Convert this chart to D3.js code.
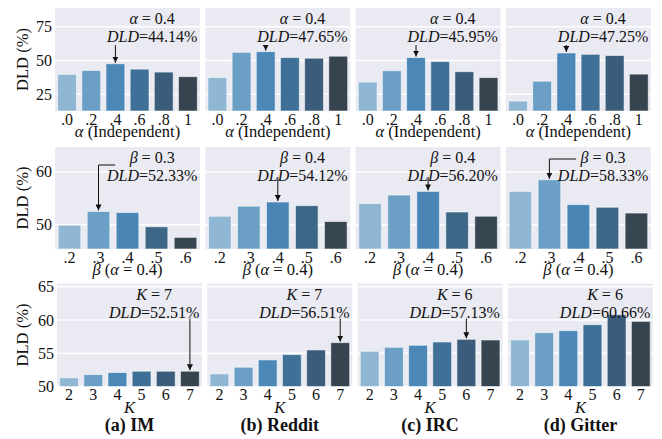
<!DOCTYPE html>
<html>
<head>
<meta charset="utf-8">
<script src="https://cdn.jsdelivr.net/npm/d3@7"></script>
<style>
  body { margin: 0; background: #fff; }
  svg { display: block; }
  text { font-family: "Liberation Serif", "Times New Roman", serif; fill: #111; }
</style>
</head>
<body>
<div id="chart"></div>
<script>
// tick labels
const alphaTicks = ['.0', '.2', '.4', '.6', '.8', '1'];
const betaTicks = ['.2', '.3', '.4', '.5', '.6'];
const kTicks = ['2', '3', '4', '5', '6', '7'];

const datasets = ['(a) IM', '(b) Reddit', '(c) IRC', '(d) Gitter'];

// row 1: alpha (independent)
const alphaIM = [39.7, 42.6, 47.6, 43.6, 41.4, 38.0];
const alphaReddit = [37.3, 56.1, 56.6, 52.2, 51.7, 53.2];
const alphaIRC = [34.0, 42.4, 52.2, 49.3, 41.7, 37.3];
const alphaGitter = [19.9, 34.6, 55.6, 54.6, 53.7, 39.9];

// row 2: beta (alpha = 0.4)
const betaIM = [49.9, 52.5, 52.3, 49.6, 47.6];
const betaReddit = [51.6, 53.5, 54.3, 53.6, 50.6];
const betaIRC = [54.0, 55.6, 56.3, 52.4, 51.6];
const betaGitter = [56.3, 58.5, 53.8, 53.3, 52.2];

// row 3: K
const kIM = [51.3, 51.8, 52.1, 52.3, 52.3, 52.3];
const kReddit = [51.9, 52.9, 54.0, 54.8, 55.5, 56.6];
const kIRC = [55.3, 55.9, 56.2, 56.7, 57.1, 57.0];
const kGitter = [57.0, 58.1, 58.4, 59.3, 60.8, 59.8];

// annotations: [param symbol, value, best index, DLD text, arrow style]
const alphaNotes = [['α', '0.4', 2, '44.14%', 'straight'], ['α', '0.4', 2, '47.65%', 'straight'],
  ['α', '0.4', 2, '45.95%', 'straight'], ['α', '0.4', 2, '47.25%', 'straight']];
const betaNotes = [['β', '0.3', 1, '52.33%', 'corner'], ['β', '0.4', 2, '54.12%', 'straight'],
  ['β', '0.4', 2, '56.20%', 'straight'], ['β', '0.3', 1, '58.33%', 'corner-high']];
const kNotes = [['K', '7', 5, '52.51%', 'straight'], ['K', '7', 5, '56.51%', 'straight'],
  ['K', '6', 4, '57.13%', 'straight'], ['K', '6', 4, '60.66%', 'straight']];

const colors6 = ['#8fb6d2', '#6b9fc5', '#4b88b7', '#3f7198', '#3b5c7a', '#36444f'];
const colors5 = ['#8fb6d2', '#6b9fc5', '#4a86b5', '#3d6787', '#374752'];

const rows = [
  { ticks: alphaTicks, series: [alphaIM, alphaReddit, alphaIRC, alphaGitter], notes: alphaNotes,
    domain: [12.5, 89], yTicks: [25, 50, 75], top: 8, bottom: 111, left: 55, colors: colors6,
    arrowStart: 37, xlabel: 'alpha' },
  { ticks: betaTicks, series: [betaIM, betaReddit, betaIRC, betaGitter], notes: betaNotes,
    domain: [45.4, 64.7], yTicks: [50, 60], top: 147, bottom: 249, left: 55, colors: colors5,
    arrowStart: 30, xlabel: 'beta' },
  { ticks: kTicks, series: [kIM, kReddit, kIRC, kGitter], notes: kNotes,
    domain: [50, 65.5], yTicks: [50, 55, 60, 65], top: 283.5, bottom: 386.5, left: 57, colors: colors6,
    arrowStart: 35, xlabel: 'k' },
];

const width = 662;
const height = 439;
const panelW = 145;
const colStep = 150.3;

const svg = d3.select('#chart').append('svg')
  .attr('width', width)
  .attr('height', height);

svg.append('defs').append('marker')
  .attr('id', 'head')
  .attr('viewBox', '0 0 10 10')
  .attr('refX', 10)
  .attr('refY', 5)
  .attr('markerWidth', 6)
  .attr('markerHeight', 6)
  .attr('markerUnits', 'userSpaceOnUse')
  .attr('orient', 'auto')
  .append('path')
  .attr('d', 'M0,0 L10,5 L0,10 z')
  .attr('fill', '#111');

function addLabel(g, row) {
  if (row.xlabel === 'alpha') {
    g.append('tspan').attr('font-style', 'italic').text('α');
    g.append('tspan').text(' (Independent)');
  } else if (row.xlabel === 'beta') {
    g.append('tspan').attr('font-style', 'italic').text('β');
    g.append('tspan').text(' (');
    g.append('tspan').attr('font-style', 'italic').text('α');
    g.append('tspan').text(' = 0.4)');
  } else {
    g.append('tspan').attr('font-style', 'italic').text('K');
  }
}

rows.forEach((row, r) => {
  const y = d3.scaleLinear().domain(row.domain).range([row.bottom, row.top]);

  // y axis label
  svg.append('text')
    .attr('transform', `translate(22,${(row.top + row.bottom) / 2}) rotate(-90)`)
    .attr('text-anchor', 'middle')
    .attr('dy', '0.35em')
    .attr('font-size', 16.5)
    .text('DLD (%)');

  row.series.forEach((vals, c) => {
    const x0 = row.left + c * colStep;
    const x = d3.scaleBand()
      .domain(row.ticks)
      .range([x0, x0 + panelW])
      .paddingInner(0.22)
      .paddingOuter(0.11);

    const g = svg.append('g');

    g.append('rect')
      .attr('x', x0)
      .attr('y', row.top)
      .attr('width', panelW)
      .attr('height', row.bottom - row.top)
      .attr('fill', '#eaeaf2');

    g.selectAll('line.grid')
      .data(row.yTicks)
      .join('line')
      .attr('class', 'grid')
      .attr('x1', x0)
      .attr('x2', x0 + panelW)
      .attr('y1', (d) => y(d))
      .attr('y2', (d) => y(d))
      .attr('stroke', '#fff')
      .attr('stroke-width', 1.5);

    g.selectAll('rect.bar')
      .data(vals)
      .join('rect')
      .attr('class', 'bar')
      .attr('x', (_, i) => x(row.ticks[i]))
      .attr('width', x.bandwidth())
      .attr('y', (d) => y(d))
      .attr('height', (d) => row.bottom - y(d))
      .attr('fill', (_, i) => row.colors[i])
      .attr('stroke', 'rgba(255,255,255,0.55)')
      .attr('stroke-width', 1);

    // x tick labels
    g.selectAll('text.xtick')
      .data(row.ticks)
      .join('text')
      .attr('class', 'xtick')
      .attr('x', (d) => x(d) + x.bandwidth() / 2)
      .attr('y', row.bottom + 8)
      .attr('dy', '0.35em')
      .attr('text-anchor', 'middle')
      .attr('font-size', 16)
      .text((d) => d);

    // y tick labels (first column only)
    if (c === 0) {
      g.selectAll('text.ytick')
        .data(row.yTicks)
        .join('text')
        .attr('class', 'ytick')
        .attr('x', x0 - 3)
        .attr('y', (d) => y(d))
        .attr('dy', '0.35em')
        .attr('text-anchor', 'end')
        .attr('font-size', 16)
        .text((d) => d);
    }

    // x axis label
    const xl = g.append('text')
      .attr('x', x0 + panelW / 2)
      .attr('y', row.bottom + 20.5)
      .attr('dy', '0.35em')
      .attr('text-anchor', 'middle')
      .attr('font-size', 16.5);
    addLabel(xl, row);

    // annotation
    const [sym, pv, best, dld, style] = row.notes[c];
    const tx = x0 + panelW * 0.67;
    const l1 = g.append('text')
      .attr('x', tx)
      .attr('y', row.top + 10.5)
      .attr('dy', '0.35em')
      .attr('text-anchor', 'middle')
      .attr('font-size', 16);
    l1.append('tspan').attr('font-style', 'italic').text(sym);
    l1.append('tspan').text(` = ${pv}`);
    const l2 = g.append('text')
      .attr('x', tx)
      .attr('y', row.top + 28.5)
      .attr('dy', '0.35em')
      .attr('text-anchor', 'middle')
      .attr('font-size', 16);
    l2.append('tspan').attr('font-style', 'italic').text('DLD');
    l2.append('tspan').text(`=${dld}`);

    const bx = x(row.ticks[best]) + x.bandwidth() / 2;
    const by = y(vals[best]) - 1;
    if (style === 'corner' || style === 'corner-high') {
      const high = style === 'corner-high';
      const cy = row.top + (high ? 12 : 18);
      const ex = tx - (high ? 27 : 37);
      g.append('path')
        .attr('d', `M${ex},${cy} L${bx},${cy} L${bx},${by}`)
        .attr('fill', 'none')
        .attr('stroke', '#111')
        .attr('stroke-width', 1)
        .attr('marker-end', 'url(#head)');
    } else if (by > row.top + row.arrowStart + 4) {
      g.append('line')
        .attr('x1', bx)
        .attr('x2', bx)
        .attr('y1', row.top + row.arrowStart)
        .attr('y2', by)
        .attr('stroke', '#111')
        .attr('stroke-width', 1)
        .attr('marker-end', 'url(#head)');
    }

    if (r === rows.length - 1) {
      svg.append('text')
        .attr('x', x0 + panelW / 2)
        .attr('y', row.bottom + 38)
        .attr('dy', '0.35em')
        .attr('text-anchor', 'middle')
        .attr('font-size', 18)
        .attr('font-weight', 'bold')
        .text(datasets[c]);
    }
  });
});
</script>
</body>
</html>
